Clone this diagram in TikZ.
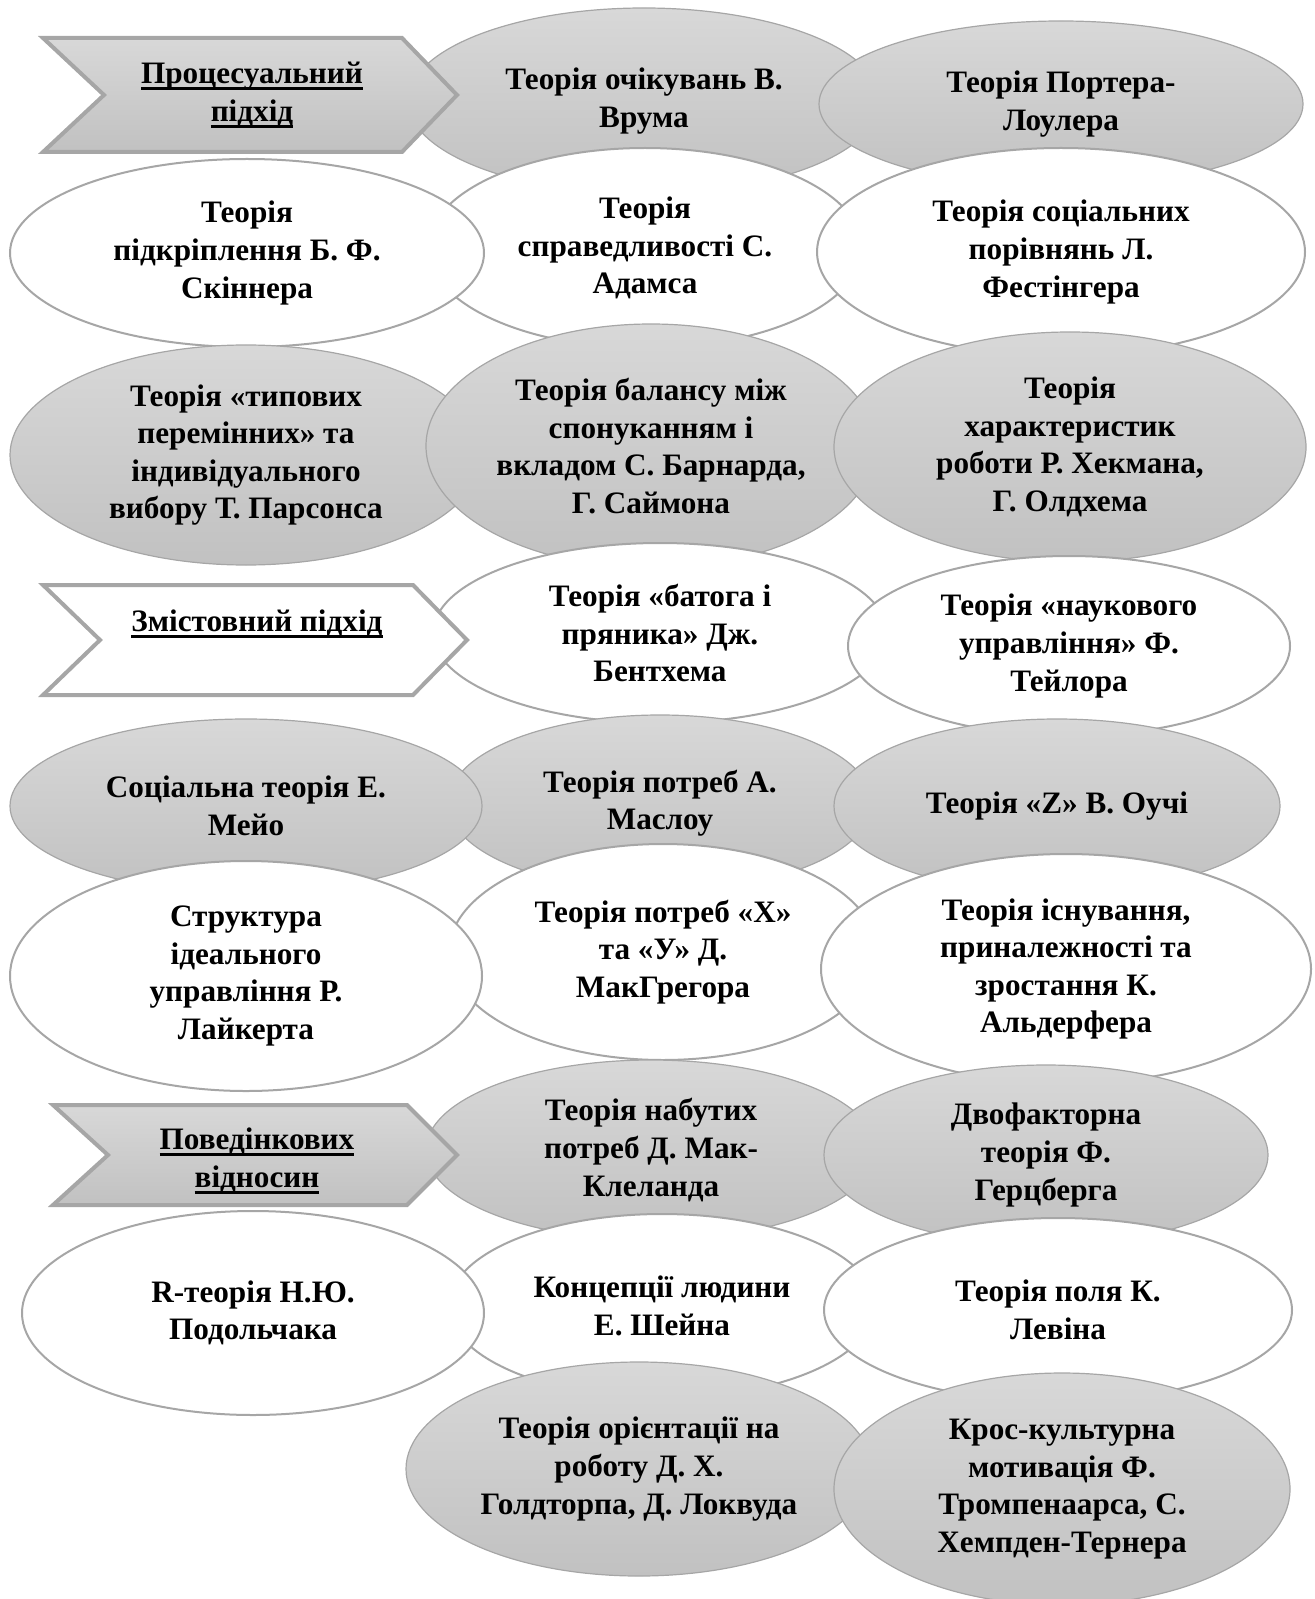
\documentclass[tikz,border=0pt]{standalone}
\usepackage{fontspec}
\setmainfont{Liberation Serif}
\usetikzlibrary{shapes.geometric}
\definecolor{edgegray}{RGB}{166,166,166}
\definecolor{shadetop}{RGB}{216,216,216}
\definecolor{shadebot}{RGB}{193,193,193}
\newcommand{\undl}[1]{\leavevmode\setbox0\hbox{#1}\rlap{\rule[-3.2pt]{\wd0}{1.5pt}}\box0}

\begin{document}
\begin{tikzpicture}[x=0.5pt, y=-0.5pt,
    thfont/.style={font=\bfseries\fontsize{15.6}{18.8}\selectfont},
    grayell/.style={ellipse, draw=edgegray, line width=0.6pt, top color=shadetop, bottom color=shadebot, inner sep=0pt, align=center, thfont},
    whiteell/.style={ellipse, draw=edgegray, line width=1pt, fill=white, inner sep=0pt, align=center, thfont},
    chevgray/.style={draw=edgegray, line width=2pt, top color=shadetop, bottom color=shadebot},
    chevwhite/.style={draw=edgegray, line width=2pt, fill=white},
    headtext/.style={align=center, inner sep=0pt, thfont}]
\useasboundingbox (0,0) rectangle (1314,1599);

% first row
\node[grayell, minimum width=236pt, minimum height=93pt] (vroom) at (644,101) {Теорія очікувань В.\\Врума};
\node[grayell, minimum width=242pt, minimum height=83pt] (porter) at (1061,104) {Теорія Портера-\\Лоулера};
\path[chevgray] (43,38) -- (402,38) -- (457,95) -- (402,152) -- (43,152) -- (104,95) -- cycle;
\node[headtext] (proc) at (252,95) {\undl{Процесуальний}\\\undl{підхід}};

% second row
\node[whiteell, minimum width=217pt, minimum height=100pt] (adams) at (645,248) {Теорія\\справедливості С.\\Адамса};
\node[whiteell, minimum width=237pt, minimum height=94pt] (skinner) at (247,253) {Теорія\\підкріплення Б. Ф.\\Скіннера};
\node[whiteell, minimum width=244pt, minimum height=104pt] (festinger) at (1061,252) {Теорія соціальних\\порівнянь Л.\\Фестінгера};

% third row
\node[grayell, minimum width=236pt, minimum height=110pt] (parsons) at (246,455) {Теорія «типових\\перемінних» та\\індивідуального\\вибору Т. Парсонса};
\node[grayell, minimum width=225pt, minimum height=122pt] (barnard) at (651,446) {Теорія балансу між\\спонуканням і\\вкладом С. Барнарда,\\Г. Саймона};
\node[grayell, minimum width=236pt, minimum height=115pt] (hackman) at (1070,447) {Теорія\\характеристик\\роботи Р. Хекмана,\\Г. Олдхема};

% fourth row
\node[whiteell, minimum width=227pt, minimum height=90pt] (bentham) at (660,633) {Теорія «батога і\\пряника» Дж.\\Бентхема};
\node[whiteell, minimum width=221pt, minimum height=90pt] (taylor) at (1069,646) {Теорія «наукового\\управління» Ф.\\Тейлора};
\path[chevwhite] (43,585) -- (413,585) -- (467,640) -- (413,695) -- (43,695) -- (100,640) -- cycle;
\node[headtext] (zmist) at (257,645) {\undl{Змістовний підхід}\\\strut};

% fifth row
\node[grayell, minimum width=212pt, minimum height=88pt] (maslow) at (660,803) {Теорія потреб А.\\Маслоу};
\node[grayell, minimum width=236pt, minimum height=87pt] (mayo) at (246,806) {Соціальна теорія Е.\\Мейо};
\node[grayell, minimum width=223pt, minimum height=87pt] (ouchi) at (1057,806) {Теорія «Z» В. Оучі};

% sixth row
\node[whiteell, minimum width=214pt, minimum height=108pt] (mcgregor) at (663,952) {Теорія потреб «Х»\\та «У» Д.\\МакГрегора};
\node[whiteell, minimum width=236pt, minimum height=115pt] (likert) at (246,976) {Структура\\ідеального\\управління Р.\\Лайкерта};
\node[whiteell, minimum width=245pt, minimum height=115pt] (alderfer) at (1066,969) {Теорія існування,\\приналежності та\\зростання К.\\Альдерфера};

% seventh row
\node[grayell, minimum width=225pt, minimum height=90pt] (mcclelland) at (651,1150) {Теорія набутих\\потреб Д. Мак-\\Клеланда};
\node[grayell, minimum width=222pt, minimum height=90pt] (herzberg) at (1046,1155) {Двофакторна\\теорія Ф.\\Герцберга};
\path[chevgray] (53,1105) -- (407,1105) -- (457,1155) -- (407,1205) -- (53,1205) -- (108,1155) -- cycle;
\node[headtext] (povid) at (257,1161) {\undl{Поведінкових}\\\undl{відносин}};

% eighth row
\node[whiteell, minimum width=213pt, minimum height=92pt] (schein) at (662,1306) {Концепції людини\\Е. Шейна};
\node[whiteell, minimum width=231pt, minimum height=102pt] (podolchak) at (253,1313) {R-теорія Н.Ю.\\Подольчака};
\node[whiteell, minimum width=234pt, minimum height=92pt] (lewin) at (1058,1310) {Теорія поля К.\\Левіна};

% ninth row
\node[grayell, minimum width=233pt, minimum height=107pt] (goldthorpe) at (639,1469) {Теорія орієнтації на\\роботу Д. Х.\\Голдторпа, Д. Локвуда};
\node[grayell, minimum width=228pt, minimum height=116pt] (trompenaars) at (1062,1489) {Крос-культурна\\мотивація Ф.\\Тромпенаарса, С.\\Хемпден-Тернера};
\end{tikzpicture}
\end{document}
